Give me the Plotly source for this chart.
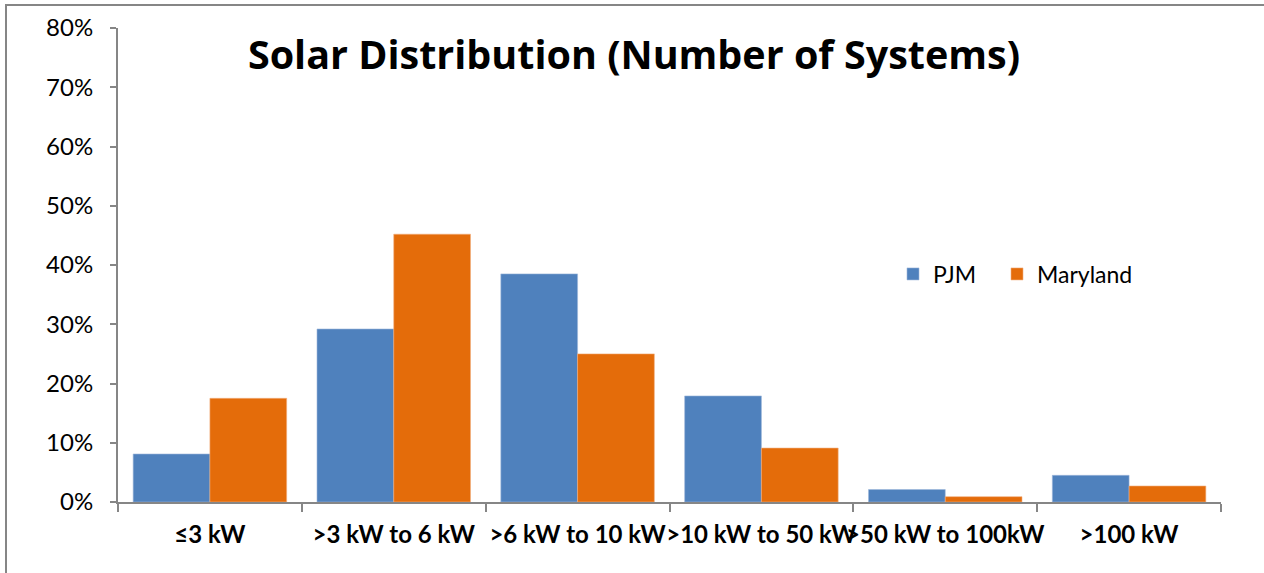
import plotly.graph_objects as go

categories = ["≤3 kW", ">3 kW to 6 kW", ">6 kW to 10 kW", ">10 kW to 50 kW", ">50 kW to 100kW", ">100 kW"]
pjm = [0.081, 0.292, 0.385, 0.179, 0.021, 0.045]
maryland = [0.175, 0.452, 0.250, 0.091, 0.009, 0.027]
y_ticks = [0, 0.1, 0.2, 0.3, 0.4, 0.5, 0.6, 0.7, 0.8]

FONT = "Lato"
W, H = 1264, 573
ML, MR, MT, MB = 118, 43, 26, 71
PW, PH = W - ML - MR, H - MT - MB

fig = go.Figure()
fig.add_trace(go.Bar(name="PJM", x=categories, y=pjm, legend="legend",
                     marker=dict(color="#4F81BD", line=dict(color="#9DB7DA", width=0.6))))
fig.add_trace(go.Bar(name="Maryland", x=categories, y=maryland, legend="legend2",
                     marker=dict(color="#E46C0A", line=dict(color="#F2AE7E", width=0.6))))

leg_common = dict(orientation="h", xanchor="left", yanchor="middle",
                  y=(502 - 273) / PH,
                  font=dict(family=FONT, size=23, color="black"),
                  bgcolor="rgba(0,0,0,0)", itemwidth=30)

fig.update_layout(
    width=W, height=H,
    margin=dict(l=ML, r=MR, t=MT, b=MB),
    paper_bgcolor="white", plot_bgcolor="white",
    barmode="group", bargap=0.165, bargroupgap=0,
    font=dict(family=FONT, color="black"),
    title=dict(text="<b>Solar Distribution (Number of Systems)</b>",
               font=dict(family="Open Sans", size=39.5, color="black"),
               x=634 / W, xanchor="center", xref="container",
               y=1 - 55 / H, yanchor="middle", yref="container"),
    legend=dict(x=(893 - ML) / PW, **leg_common),
    legend2=dict(x=(997 - ML) / PW, **leg_common),
    showlegend=True,
)

fig.update_xaxes(
    type="category", showline=True, linecolor="#868686", linewidth=2,
    ticks="outside", tickson="boundaries", ticklen=8, tickwidth=2, tickcolor="#868686",
    tickfont=dict(family=FONT, size=24, color="black"), tickangle=0,
    showgrid=False, zeroline=False, ticklabelstandoff=10,
    tickprefix="<b>", ticksuffix="</b>",
)
fig.update_yaxes(
    range=[0, 0.8], tickvals=y_ticks, tickformat=".0%",
    showline=True, linecolor="#868686", linewidth=2,
    ticks="outside", ticklen=6, tickwidth=2, tickcolor="#868686",
    tickfont=dict(family=FONT, size=24, color="black"),
    showgrid=False, zeroline=False, ticklabelstandoff=12,
)

# outer chart border (top and left visible)
fig.add_shape(type="rect", xref="paper", yref="paper",
              x0=(6 - ML) / PW, x1=(W + 20 - ML) / PW,
              y0=(MT + PH - (H + 20)) / PH, y1=(MT + PH - 3) / PH,
              line=dict(color="#868686", width=2), fillcolor="rgba(0,0,0,0)", layer="below")

fig.write_html("out.html", config={"displayModeBar": False},
               post_script="document.body.style.margin='0px';")
